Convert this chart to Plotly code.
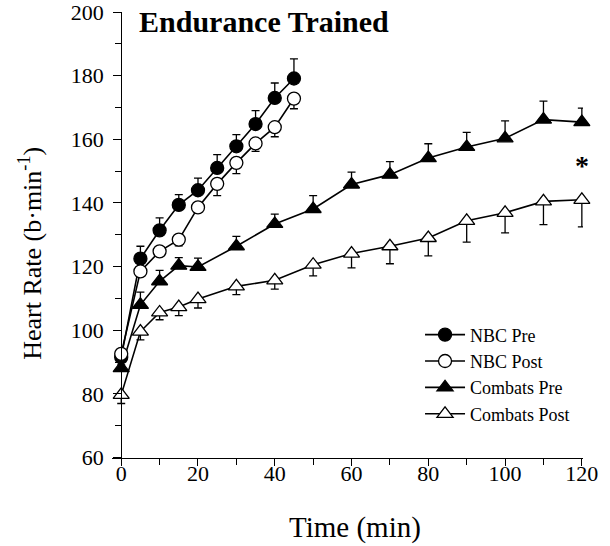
import plotly.graph_objects as go

# ---- data ----
t_nbc = [0, 5, 10, 15, 20, 25, 30, 35, 40, 45]
nbc_pre = [91.5, 122.5, 131.4, 139.4, 144.0, 151.0, 157.8, 164.8, 173.0, 179.1]
nbc_pre_se = [1.5, 3.9, 3.9, 3.2, 3.8, 4.2, 3.7, 4.2, 4.7, 6.2]
nbc_post = [92.6, 118.5, 124.8, 128.5, 138.6, 146.0, 152.6, 158.7, 163.8, 172.8]
nbc_post_se = [1.0, 1.5, 1.5, 2.0, 1.5, 3.7, 3.4, 2.5, 3.0, 3.2]

t_cmb = [0, 5, 10, 15, 20, 30, 40, 50, 60, 70, 80, 90, 100, 110, 120]
cmb_pre = [88.1, 108.0, 115.4, 120.3, 119.9, 126.4, 133.4, 138.1, 145.8, 148.9,
           154.1, 157.6, 160.3, 166.2, 165.4]
cmb_pre_se = [1.0, 4.0, 3.4, 2.5, 2.8, 3.1, 3.1, 4.2, 3.9, 4.1, 4.5, 4.6, 5.5, 5.8, 4.4]
cmb_post = [79.7, 99.6, 105.6, 107.3, 109.8, 113.8, 115.7, 120.6, 124.1, 126.4,
            129.0, 134.4, 136.9, 140.5, 141.0]
cmb_post_se = [2.7, 2.6, 2.3, 2.7, 2.8, 2.6, 2.8, 3.5, 4.5, 5.5, 5.6, 6.7, 6.3, 7.3, 8.5]

x_ticks = [0, 20, 40, 60, 80, 100, 120]
y_ticks = [60, 80, 100, 120, 140, 160, 180, 200]

title_text = "Endurance Trained"
x_title = "Time (min)"
y_title = "Heart Rate (b·min<sup>-1</sup>)"
sig_x, sig_y = 120, 152.8

FONT = "Liberation Serif, Times New Roman, serif"


def zeros(n):
    return [0] * n


def trace(name, x, y, se, up, symbol, fill, rank):
    err = dict(type="data", symmetric=False,
               array=se if up else zeros(len(se)),
               arrayminus=zeros(len(se)) if up else se,
               color="black", thickness=1.3, width=4)
    return go.Scatter(
        x=x, y=y, name=name, mode="lines+markers", legendrank=rank,
        line=dict(color="black", width=1.6),
        marker=dict(symbol=symbol, size=13 if "circle" in symbol else 14,
                    color=fill, line=dict(color="black", width=1.3)),
        error_y=err, cliponaxis=False)


fig = go.Figure()
fig.add_trace(trace("Combats Post", t_cmb, cmb_post, cmb_post_se, False, "triangle-up", "white", 4))
fig.add_trace(trace("Combats Pre", t_cmb, cmb_pre, cmb_pre_se, True, "triangle-up", "black", 3))
fig.add_trace(trace("NBC Pre", t_nbc, nbc_pre, nbc_pre_se, True, "circle", "black", 1))
fig.add_trace(trace("NBC Post", t_nbc, nbc_post, nbc_post_se, False, "circle", "white", 2))

x_range = [-2.4, 120.3]
y_range = [58.3, 200]

fig.update_layout(
    width=610, height=546,
    margin=dict(l=112, r=27, t=12, b=83, autoexpand=False),
    paper_bgcolor="white", plot_bgcolor="white",
    font=dict(family=FONT, color="black", size=20),
    showlegend=True,
    legend=dict(x=0.654, y=0.325, xanchor="left", yanchor="top",
                traceorder="normal", font=dict(size=18, family=FONT),
                bgcolor="rgba(0,0,0,0)", itemwidth=40, tracegroupgap=0),
    xaxis=dict(range=x_range, anchor="free", automargin=False,
               position=(60 - y_range[0]) / (y_range[1] - y_range[0]),
               showline=True, linecolor="black", linewidth=1.3,
               tickvals=x_ticks, ticks="outside", ticklen=7, tickwidth=1.2,
               tickcolor="black", showgrid=False, zeroline=False,
               tickfont=dict(size=22), ticklabelstandoff=-11,
               ticklabeloverflow="allow",
               minor=dict(dtick=10, tick0=0, ticks="outside", ticklen=6,
                          tickwidth=1.2, tickcolor="black", showgrid=False)),
    yaxis=dict(range=y_range, anchor="free", automargin=False,
               position=(0 - x_range[0]) / (x_range[1] - x_range[0]),
               showline=True, linecolor="black", linewidth=1.3,
               tickvals=y_ticks, ticks="outside", ticklen=8, tickwidth=1.2,
               tickcolor="black", showgrid=False, zeroline=False,
               tickfont=dict(size=22), ticklabelstandoff=5,
               ticklabeloverflow="allow",
               minor=dict(dtick=10, tick0=0, ticks="outside", ticklen=6,
                          tickwidth=1.2, tickcolor="black", showgrid=False)),
    annotations=[
        dict(x=4.2, y=196.9, xref="x", yref="y", text="<b>" + title_text + "</b>",
             showarrow=False, xanchor="left", yanchor="middle",
             font=dict(size=30, family=FONT)),
        dict(x=sig_x, y=sig_y, xref="x", yref="y", text="<b>*</b>",
             showarrow=False, xanchor="center", yanchor="middle", yshift=-3,
             font=dict(size=28, family=FONT)),
        dict(x=0.515, y=-0.144, xref="paper", yref="paper", text=x_title,
             showarrow=False, xanchor="center", yanchor="middle",
             font=dict(size=29, family=FONT)),
        dict(x=-0.172, y=0.466, xref="paper", yref="paper", text=y_title,
             showarrow=False, xanchor="center", yanchor="middle", textangle=-90,
             font=dict(size=26, family=FONT)),
    ],
)

fig.write_html("out.html")
